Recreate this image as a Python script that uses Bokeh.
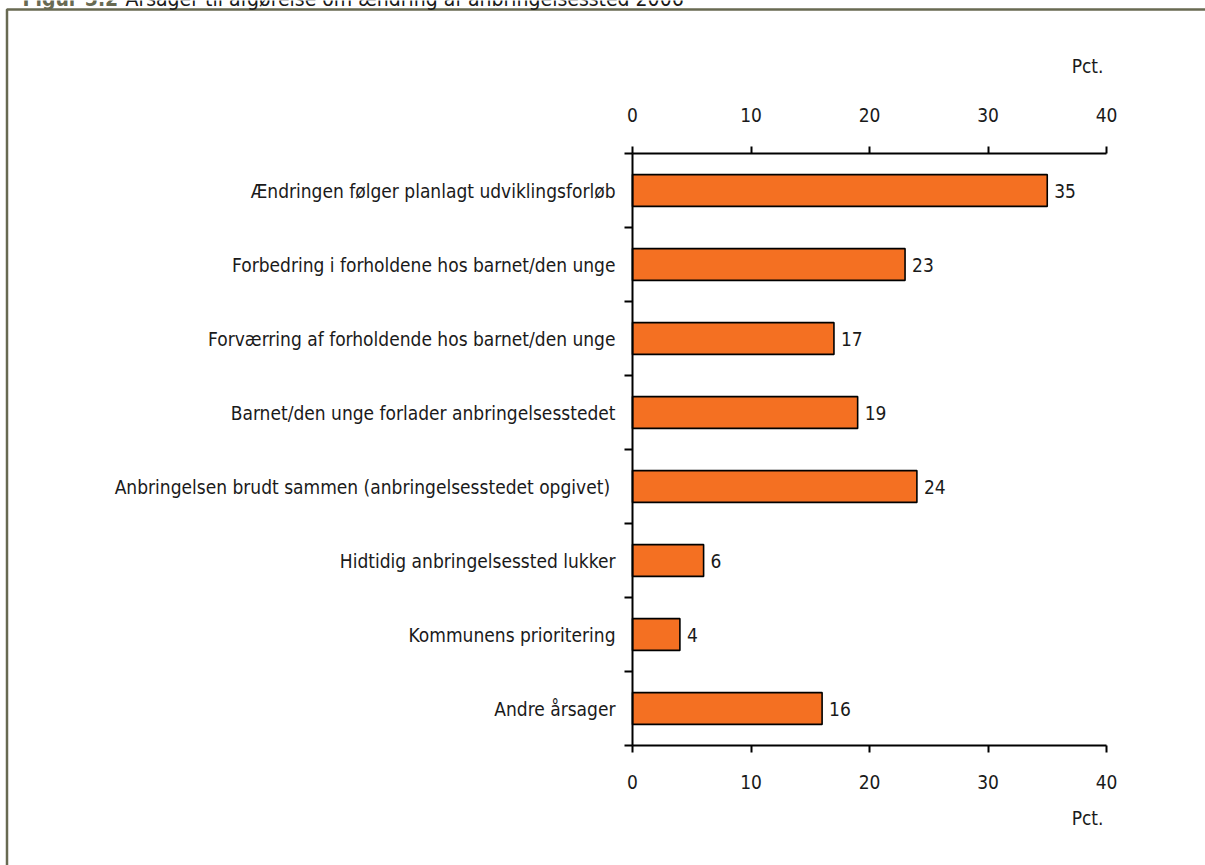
from bokeh.plotting import figure
from bokeh.models import (Range1d, LinearAxis, FixedTicker, Label, ColumnDataSource,
                          BoxAnnotation)
from bokeh.core.properties import value
from bokeh.embed import file_html
from bokeh.resources import INLINE

title_lead = "Figur 5.2"
title_rest = "Årsager til afgørelse om ændring af anbringelsessted 2006"
categories = [
    "Ændringen følger planlagt udviklingsforløb",
    "Forbedring i forholdene hos barnet/den unge",
    "Forværring af forholdende hos barnet/den unge",
    "Barnet/den unge forlader anbringelsesstedet",
    "Anbringelsen brudt sammen (anbringelsesstedet  opgivet)",
    "Hidtidig anbringelsessted lukker",
    "Kommunens prioritering",
    "Andre årsager",
]
values = [35, 23, 17, 19, 24, 6, 4, 16]
x_ticks = [0, 10, 20, 30, 40]
x_max = 40
unit_label = "Pct."

FONT = "DejaVu Sans Condensed"
FS = "19px"
ORANGE = "#F47022"
OLIVE = "#686A52"
INK = "#1a1a1a"

n = len(categories)
centers = [n - i - 0.5 for i in range(n)]
bounds = list(range(0, n + 1))

# layout (pixels on the canvas)
W, H = 1205, 865
FX0, FX1, FY0, FY1 = 632, 1106, 153, 745
sx = (FX1 - FX0) / x_max
sy = (FY1 - FY0) / n
def px2x(px):
    return (px - FX0) / sx
def px2y(py):
    return n - (py - FY0) / sy

p = figure(width=W, height=H, output_backend="svg", toolbar_location=None,
           x_range=Range1d(px2x(0), px2x(W)), y_range=Range1d(px2y(H), px2y(0)),
           x_axis_location=None, y_axis_location=None,
           min_border_left=0, min_border_right=0, min_border_top=0, min_border_bottom=0)
p.title.visible = False
p.outline_line_color = None
p.grid.visible = False
p.background_fill_color = "white"
p.border_fill_color = "white"

# frame border
p.add_layout(BoxAnnotation(left=px2x(6.5), right=px2x(W + 20), top=px2y(9),
                           bottom=px2y(H + 20), fill_alpha=0,
                           line_color=OLIVE, line_alpha=1.0, line_width=2.5))

src = ColumnDataSource(dict(y=centers, v=values, lab=[str(v) for v in values]))
p.hbar(y="y", left=0, right="v", height=0.43, source=src,
       fill_color=ORANGE, line_color="black", line_width=1.6)
p.text(x="v", y="y", text="lab", source=src, x_offset=7,
       text_baseline="middle", text_align="left",
       text_font=value(FONT), text_font_size=FS, text_color=INK)

def style_x(ax, loc, standoff):
    ax.fixed_location = loc
    ax.bounds = (0, x_max)
    ax.ticker = FixedTicker(ticks=x_ticks, minor_ticks=[])
    ax.major_tick_out = 7
    ax.major_tick_in = 0
    ax.minor_tick_out = 0
    ax.minor_tick_in = 0
    ax.axis_line_width = 2
    ax.major_tick_line_width = 2
    ax.axis_line_color = "black"
    ax.major_label_text_font = FONT
    ax.major_label_text_font_size = FS
    ax.major_label_text_color = INK
    ax.major_label_standoff = standoff

top = LinearAxis()
style_x(top, n, 25)
p.add_layout(top, "above")
bottom = LinearAxis()
style_x(bottom, 0, 22)
p.add_layout(bottom, "below")

yax = LinearAxis()
yax.fixed_location = 0
yax.bounds = (0, n)
yax.ticker = FixedTicker(ticks=centers, minor_ticks=bounds)
yax.major_label_overrides = {c: lab for c, lab in zip(centers, categories)}
yax.major_tick_out = 0
yax.major_tick_in = 0
yax.minor_tick_out = 8
yax.minor_tick_in = 0
yax.minor_tick_line_width = 2
yax.axis_line_width = 2
yax.axis_line_color = "black"
yax.major_label_text_font = FONT
yax.major_label_text_font_size = FS
yax.major_label_text_color = INK
yax.major_label_standoff = 9
p.add_layout(yax, "left")

p.add_layout(Label(x=x_max, y=px2y(65), text=unit_label, x_offset=-3,
                   text_align="right", text_baseline="alphabetic",
                   text_font=FONT, text_font_size=FS, text_color=INK))
p.add_layout(Label(x=x_max, y=px2y(817), text=unit_label, x_offset=-3,
                   text_align="right", text_baseline="alphabetic",
                   text_font=FONT, text_font_size=FS, text_color=INK))

p.add_layout(Label(x=px2x(22), y=px2y(-2), text=title_lead, text_font=FONT,
                   text_font_style="bold", text_font_size="21px",
                   text_color=OLIVE, text_baseline="alphabetic"))
p.add_layout(Label(x=px2x(125), y=px2y(-2), text=title_rest, text_font=FONT,
                   text_font_size="21px", text_color=INK,
                   text_baseline="alphabetic"))

open("out.html", "w").write(file_html(p, INLINE))
